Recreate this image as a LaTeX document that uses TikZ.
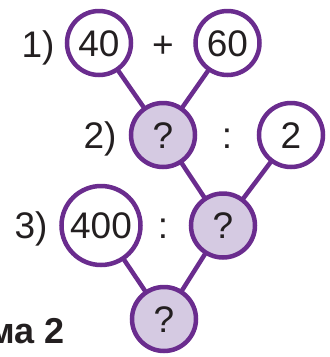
\documentclass[tikz,border=0pt]{standalone}
\usepackage{fontspec}
\setmainfont{Liberation Sans}
\usetikzlibrary{backgrounds}
\definecolor{pur}{HTML}{6A2C8E}
\definecolor{lav}{HTML}{D5CAE2}
\definecolor{ink}{HTML}{231F20}
\tikzset{
  num/.style={circle, draw=pur, line width=4.5pt, fill=white, minimum size=64pt, inner sep=0pt,
    text=ink, font=\fontsize{37}{37}\selectfont, text height=26.5pt, text depth=0pt},
  big/.style={num, minimum size=79pt},
  qq/.style={num, fill=lav},
  lbl/.style={text=ink, font=\fontsize{37}{37}\selectfont, inner sep=0pt, anchor=base},
  link/.style={draw=pur, line width=4.5pt}
}
\begin{document}
\begin{tikzpicture}[x=1pt,y=-1pt]
\useasboundingbox (0,0) rectangle (330,357);
\node[num] (a) at (99,43) {40};
\node[num] (b) at (227.5,43) {60};
\node[qq]  (c) at (163,135) {?};
\node[num] (d) at (291,135) {2};
\node[big] (e) at (101,225.5) {400};
\node[qq]  (f) at (223,225.5) {?};
\node[qq]  (g) at (164,319) {?};
\node[lbl] (l1) at (38,57) {1)};
\node[lbl] (l2) at (100,148) {2)};
\node[lbl] (l3) at (31,238) {3)};
\node[lbl] (p) at (163,57) {+};
\node[lbl] (o1) at (227,148) {:};
\node[lbl] (o2) at (163,238) {:};
\node[text=ink, font=\fontsize{36}{36}\bfseries\selectfont, inner sep=0pt, anchor=base east] (t) at (65,343) {ма 2};
\begin{scope}[on background layer]
\draw[link] (a.center) -- (c.center);
\draw[link] (b.center) -- (c.center);
\draw[link] (c.center) -- (f.center);
\draw[link] (d.center) -- (f.center);
\draw[link] (e.center) -- (g.center);
\draw[link] (f.center) -- (g.center);
\end{scope}
\end{tikzpicture}
\end{document}
